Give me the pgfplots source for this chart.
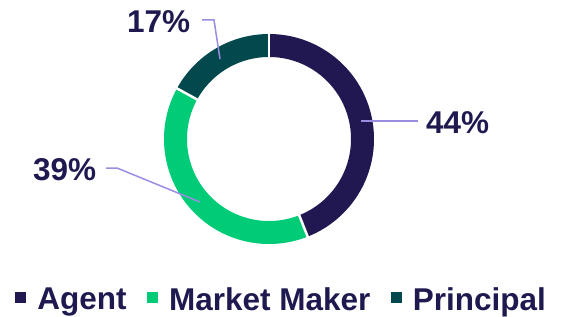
\documentclass[border=0pt]{standalone}
\usepackage{pgfplots}
\pgfplotsset{compat=1.18}
\usepackage{pgfplotstable}
\usepackage{fontspec}
\setmainfont{Liberation Sans}
\definecolor{agent}{HTML}{211852}
\definecolor{mm}{HTML}{00CC78}
\definecolor{princ}{HTML}{02484C}
\definecolor{txt}{HTML}{1E1A50}
\definecolor{lead}{HTML}{9A8CE0}

\pgfplotstableread{
label value
Agent 44
MarketMaker 39
Principal 17
}\sharetable

\newcommand\pctfont{\fontsize{31.5bp}{37bp}\selectfont\bfseries}
\pgfplotsset{sqlegend/.style={legend image code/.code={%
  \path[fill, draw=none, line width=0pt] (0bp,-3.5bp) rectangle (11bp,7.5bp);%
  \path (0bp,0bp) (22bp,0bp);}}}

\begin{document}%
\begin{tikzpicture}
\pgfplotstablegetelem{0}{value}\of\sharetable \let\vA\pgfplotsretval
\pgfplotstablegetelem{1}{value}\of\sharetable \let\vB\pgfplotsretval
\pgfplotstablegetelem{2}{value}\of\sharetable \let\vC\pgfplotsretval
\pgfmathsetmacro\aA{90}
\pgfmathsetmacro\aB{90-3.6*\vA}
\pgfmathsetmacro\aC{\aB-3.6*\vB}
\pgfmathsetmacro\aD{\aC-3.6*\vC}
\begin{axis}[width=564bp, height=317bp, scale only axis,
  xmin=0, xmax=564, ymin=0, ymax=317, y dir=reverse,
  hide axis, clip=false,
  legend columns=3,
  legend style={draw=none, fill=none, at={(axis cs:280.5,299.5)}, anchor=center,
    font=\pctfont, text=txt, inner sep=0pt, outer sep=0pt,
    /tikz/every even column/.append style={column sep=20bp},
    nodes={inner sep=0pt}},
]
\addplot[agent, line width=23bp, domain=\aB:\aA, samples=160, forget plot] ({269+93.5*cos(x)},{139-93.5*sin(x)});
\addplot[mm, line width=23bp, domain=\aC:\aB, samples=160, forget plot] ({269+93.5*cos(x)},{139-93.5*sin(x)});
\addplot[princ, line width=23bp, domain=\aD:\aC, samples=100, forget plot] ({269+93.5*cos(x)},{139-93.5*sin(x)});
\addlegendimage{sqlegend, fill=agent}
\addlegendentry{Agent}
\addlegendimage{sqlegend, fill=mm}
\addlegendentry{Market Maker}
\addlegendimage{sqlegend, fill=princ}
\addlegendentry{Principal}
% white separators
\draw[white, line width=2.5bp] (axis cs:{269+79*cos(\aA)},{139-79*sin(\aA)}) -- (axis cs:{269+108*cos(\aA)},{139-108*sin(\aA)});
\draw[white, line width=2.5bp] (axis cs:{269+79*cos(\aB)},{139-79*sin(\aB)}) -- (axis cs:{269+108*cos(\aB)},{139-108*sin(\aB)});
\draw[white, line width=2.5bp] (axis cs:{269+79*cos(\aC)},{139-79*sin(\aC)}) -- (axis cs:{269+108*cos(\aC)},{139-108*sin(\aC)});
% leader lines
\draw[lead, line width=1.5bp] (axis cs:361,121) -- (axis cs:418,121);
\draw[lead, line width=1.5bp] (axis cs:106,168) -- (axis cs:117,168) -- (axis cs:200,202);
\draw[lead, line width=1.5bp] (axis cs:202,20) -- (axis cs:214,20) -- (axis cs:220,59);
% labels
\node[anchor=base west, inner sep=0pt, font=\pctfont, text=txt] at (axis cs:426,133) {44\%};
\node[anchor=base west, inner sep=0pt, font=\pctfont, text=txt] at (axis cs:33,180) {39\%};
\node[anchor=base west, inner sep=0pt, font=\pctfont, text=txt] at (axis cs:127,32) {17\%};
\coordinate (SW) at (axis cs:0,317);
\coordinate (NE) at (axis cs:564,0);
\end{axis}
\pgfresetboundingbox
\path (SW) rectangle (NE);
\end{tikzpicture}%
\end{document}
